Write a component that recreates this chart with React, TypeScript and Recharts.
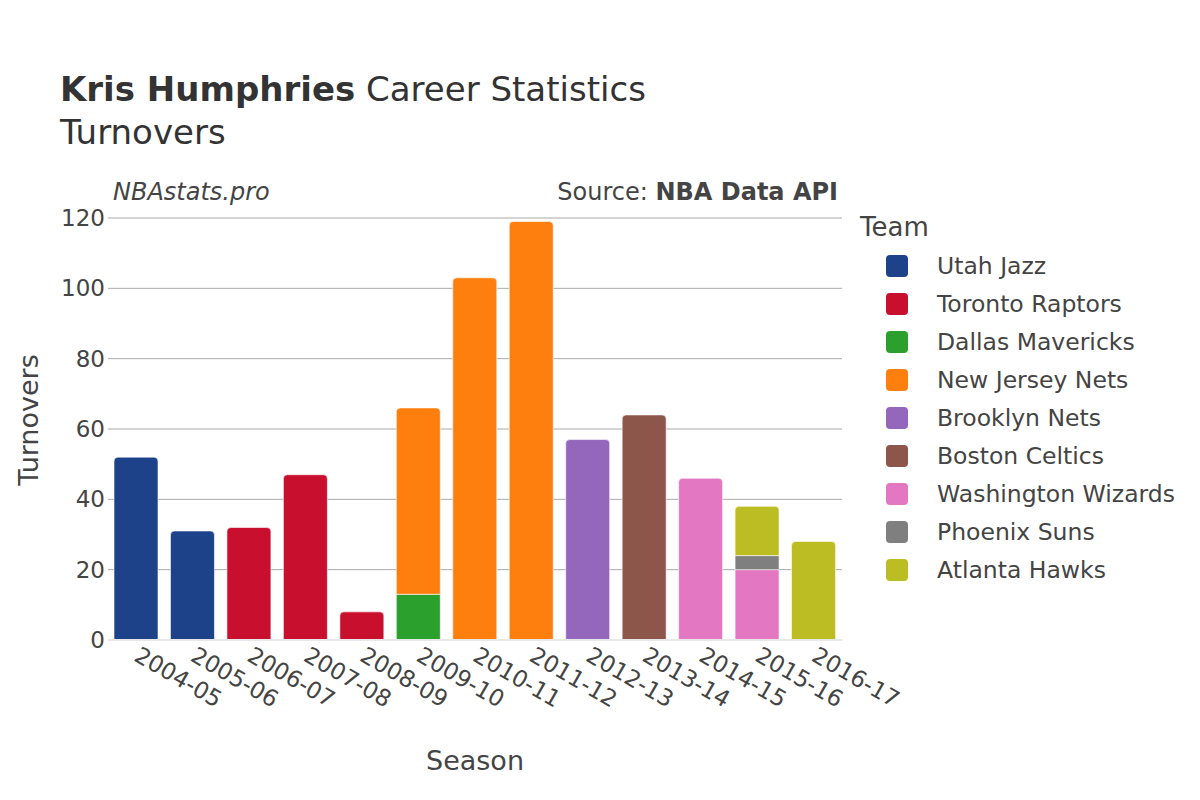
import { BarChart, Bar, XAxis, YAxis, CartesianGrid, ReferenceLine } from "recharts";

const FONT = "'DejaVu Sans', sans-serif";

const seasons = [
  "2004-05", "2005-06", "2006-07", "2007-08", "2008-09", "2009-10", "2010-11",
  "2011-12", "2012-13", "2013-14", "2014-15", "2015-16", "2016-17",
];

const utahJazz = [52, 31, 0, 0, 0, 0, 0, 0, 0, 0, 0, 0, 0];
const torontoRaptors = [0, 0, 32, 47, 8, 0, 0, 0, 0, 0, 0, 0, 0];
const dallasMavericks = [0, 0, 0, 0, 0, 13, 0, 0, 0, 0, 0, 0, 0];
const newJerseyNets = [0, 0, 0, 0, 0, 53, 103, 119, 0, 0, 0, 0, 0];
const brooklynNets = [0, 0, 0, 0, 0, 0, 0, 0, 57, 0, 0, 0, 0];
const bostonCeltics = [0, 0, 0, 0, 0, 0, 0, 0, 0, 64, 0, 0, 0];
const washingtonWizards = [0, 0, 0, 0, 0, 0, 0, 0, 0, 0, 46, 20, 0];
const phoenixSuns = [0, 0, 0, 0, 0, 0, 0, 0, 0, 0, 0, 4, 0];
const atlantaHawks = [0, 0, 0, 0, 0, 0, 0, 0, 0, 0, 0, 14, 28];

const yTicks = [0, 20, 40, 60, 80, 100, 120];

const teams = [
  { key: "uta", name: "Utah Jazz", color: "#1d428a", values: utahJazz },
  { key: "tor", name: "Toronto Raptors", color: "#c8102e", values: torontoRaptors },
  { key: "dal", name: "Dallas Mavericks", color: "#2ca02c", values: dallasMavericks },
  { key: "njn", name: "New Jersey Nets", color: "#ff7f0e", values: newJerseyNets },
  { key: "bkn", name: "Brooklyn Nets", color: "#9467bd", values: brooklynNets },
  { key: "bos", name: "Boston Celtics", color: "#8c564b", values: bostonCeltics },
  { key: "was", name: "Washington Wizards", color: "#e377c2", values: washingtonWizards },
  { key: "phx", name: "Phoenix Suns", color: "#7f7f7f", values: phoenixSuns },
  { key: "atl", name: "Atlanta Hawks", color: "#bcbd22", values: atlantaHawks },
];

const data = seasons.map((season, i) => {
  const row: Record<string, any> = { season };
  teams.forEach((t) => {
    if (t.values[i]) row[t.key] = t.values[i];
  });
  return row;
});

// rounded top corners only on the topmost segment of each stack
const segment = (teamIdx: number) => (props: any) => {
  const { x, y, width, height, fill, payload } = props;
  if (!height || height <= 0) return <g />;
  const isTop = teams.slice(teamIdx + 1).every((t) => !payload[t.key]);
  const r = isTop ? Math.min(4, height) : 0;
  const d = `M${x},${y + height} L${x},${y + r} Q${x},${y} ${x + r},${y} L${x + width - r},${y} Q${x + width},${y} ${x + width},${y + r} L${x + width},${y + height} Z`;
  return <path d={d} fill={fill} stroke="#fff" strokeWidth={0.6} />;
};

const SeasonTick = (props: any) => {
  const { x, y, payload } = props;
  return (
    <text
      x={x}
      y={y}
      dy="0.3em"
      textAnchor="start"
      transform={`rotate(30, ${x}, ${y})`}
      fontSize={23}
      fill="#444"
      fontFamily={FONT}
    >
      {payload.value}
    </text>
  );
};

export default function App() {
  return (
    <div style={{ position: "absolute", left: 0, top: 0, width: 1200, height: 800, background: "#fff" }}>
      <BarChart
        width={1200}
        height={800}
        data={data}
        margin={{ top: 218, right: 358, bottom: 0, left: 0 }}
        barSize={44}
      >
        <CartesianGrid vertical={false} stroke="#aaa" strokeWidth={1} />
        <XAxis
          dataKey="season"
          height={160}
          axisLine={false}
          tickLine={false}
          tickSize={0}
          tickMargin={14}
          interval={0}
          tick={<SeasonTick />}
        />
        <YAxis
          width={108}
          domain={[0, 120]}
          ticks={yTicks}
          axisLine={false}
          tickLine={false}
          tickSize={0}
          tickMargin={3}
          tick={{ fontSize: 23, fill: "#444", fontFamily: FONT }}
        />
        <ReferenceLine y={0} stroke="#e8e8e8" strokeWidth={2} />
        {teams.map((t, i) => (
          <Bar
            key={t.key}
            dataKey={t.key}
            name={t.name}
            stackId="a"
            fill={t.color}
            shape={segment(i)}
            isAnimationActive={false}
          />
        ))}
      </BarChart>
      <svg
        width={1200}
        height={800}
        style={{ position: "absolute", left: 0, top: 0, pointerEvents: "none" }}
        fontFamily={FONT}
      >
        <text x={60} y={101} fontSize={34} fill="#333">
          <tspan fontWeight="bold">Kris Humphries</tspan>
          <tspan> Career Statistics</tspan>
        </text>
        <text x={60} y={144} fontSize={34} fill="#333">
          Turnovers
        </text>
        <text x={113} y={200} fontSize={24} fill="#444" fontStyle="italic">
          NBAstats.pro
        </text>
        <text x={838} y={200} fontSize={24} fill="#444" textAnchor="end">
          <tspan>Source: </tspan>
          <tspan fontWeight="bold">NBA Data API</tspan>
        </text>
        <text x={475} y={770} fontSize={27} fill="#444" textAnchor="middle">
          Season
        </text>
        <text
          x={38}
          y={420}
          fontSize={27}
          fill="#444"
          textAnchor="middle"
          transform="rotate(-90, 38, 420)"
        >
          Turnovers
        </text>
        <g transform="translate(850, 200)">
          <text x={10} y={36} fontSize={26} fill="#444">
            Team
          </text>
          {teams.map((t, i) => (
            <g key={t.key}>
              <rect x={36} y={55 + i * 38} width={22} height={22} rx={4} fill={t.color} />
              <text x={87} y={74 + i * 38} fontSize={23.5} fill="#444">
                {t.name}
              </text>
            </g>
          ))}
        </g>
      </svg>
    </div>
  );
}
